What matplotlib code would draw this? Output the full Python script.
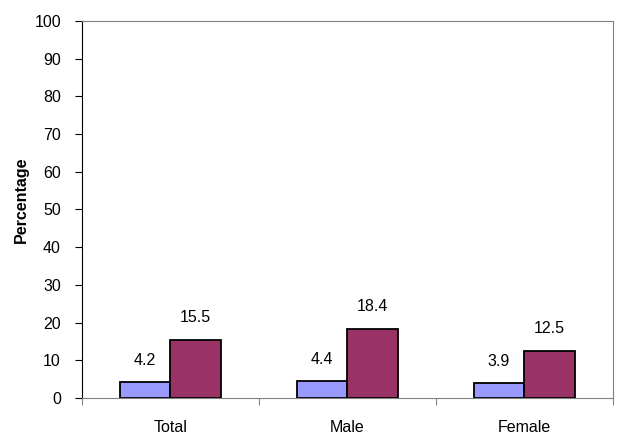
import numpy as np
import matplotlib.pyplot as plt

plt.rcParams['font.family'] = ['Liberation Sans', 'DejaVu Sans']

categorias = ['Total', 'Male', 'Female']
serie_a = [4.2, 4.4, 3.9]
serie_b = [15.5, 18.4, 12.5]

fig = plt.figure(figsize=(6.24, 4.36), dpi=100)
ax = fig.add_axes([0.131, 0.087, 0.851, 0.865])

x = np.arange(len(categorias))
ancho = 0.285
barras_a = ax.bar(x - ancho / 2, serie_a, ancho, color='#9999FF', edgecolor='black', linewidth=1.3)
barras_b = ax.bar(x + ancho / 2, serie_b, ancho, color='#993366', edgecolor='black', linewidth=1.3)

for barras, valores in [(barras_a, serie_a), (barras_b, serie_b)]:
    for b, v in zip(barras, valores):
        ax.annotate(f'{v:.1f}', (b.get_x() + b.get_width() / 2, v), xytext=(0, 16),
                    textcoords='offset points', ha='center', va='center', fontsize=11.5)

ax.set_xlim(-0.5, 2.5)
ax.set_ylim(0, 100)
ax.set_yticks(range(0, 101, 10))
ax.set_xticks([-0.5, 0.5, 1.5, 2.5])
ax.set_xticklabels([])
ax.set_xticks(x, minor=True)
ax.set_xticklabels(categorias, minor=True)
ax.tick_params(axis='x', which='minor', length=0, pad=16, labelsize=11.5)
ax.tick_params(axis='x', which='major', length=5, color='#808080', direction='out')
ax.tick_params(axis='y', length=5, labelsize=11.5, pad=10)
ax.set_ylabel('Percentage', fontweight='bold', fontsize=11.5, labelpad=4)
ax.yaxis.label.set_y(0.525)

for lado in ['top', 'right']:
    ax.spines[lado].set_color('#808080')
ax.spines['bottom'].set_color('#808080')
ax.spines['left'].set_color('black')

fig.savefig('out.png', dpi=100)
